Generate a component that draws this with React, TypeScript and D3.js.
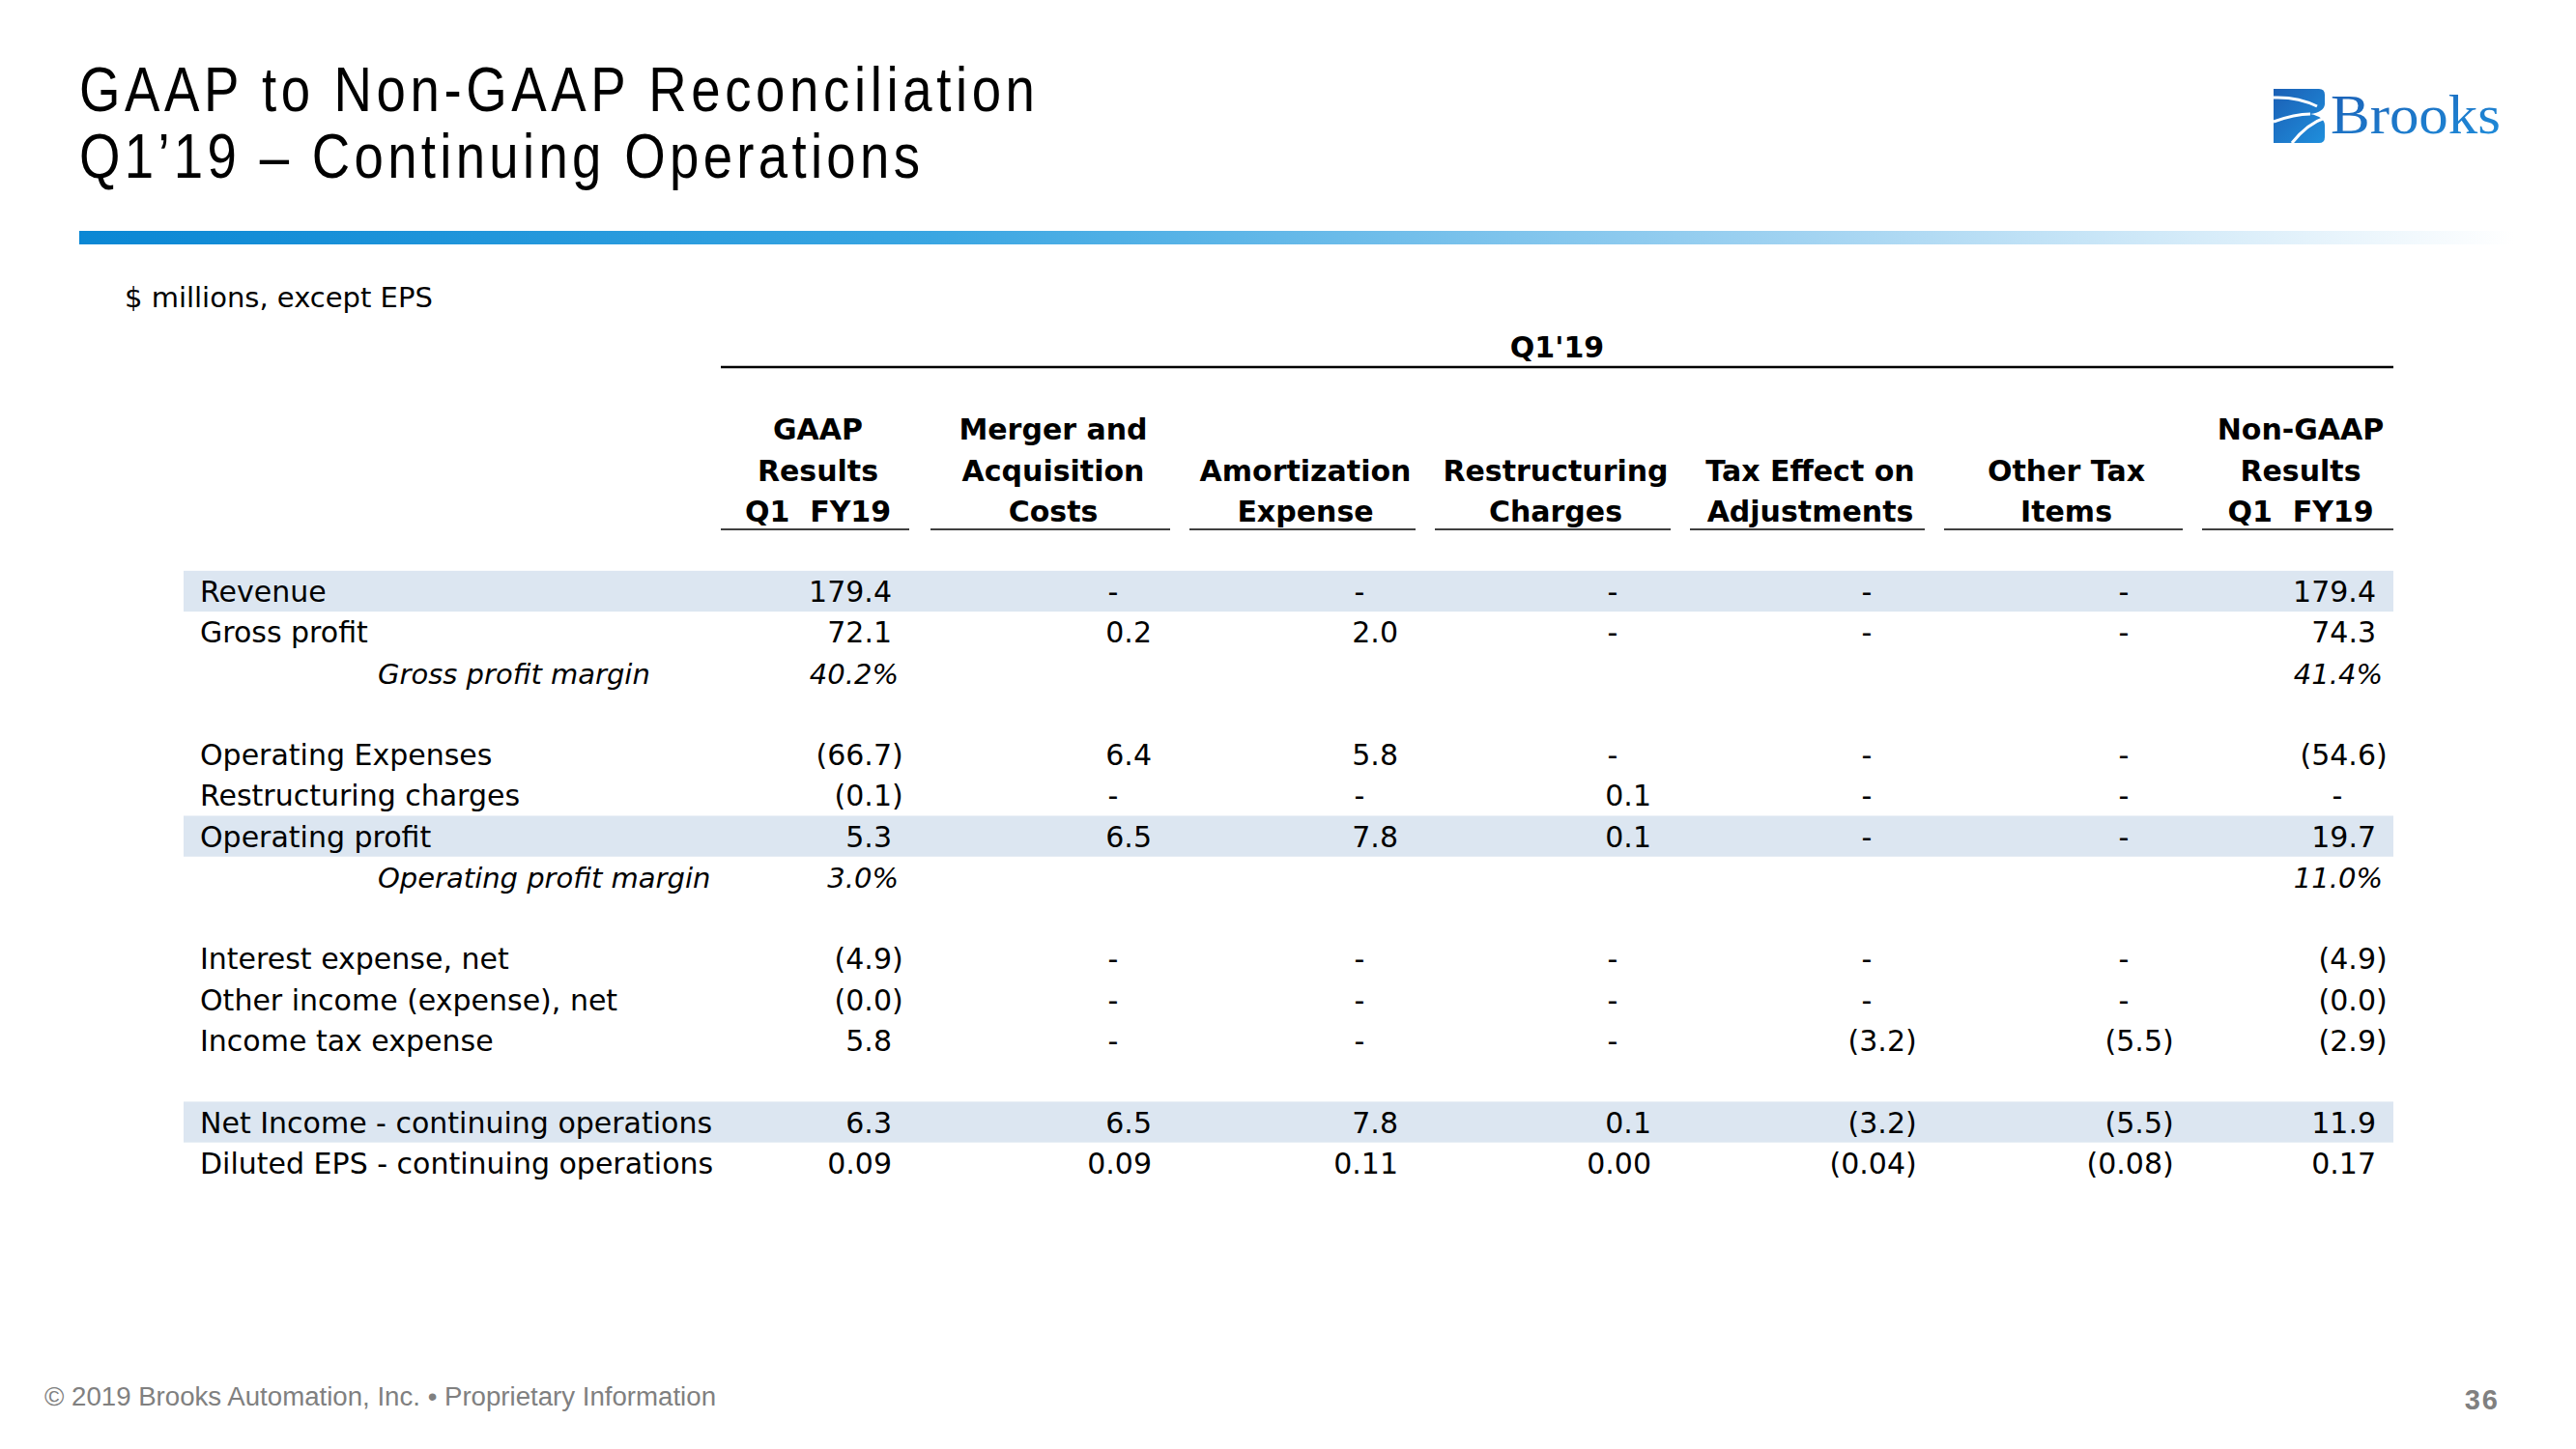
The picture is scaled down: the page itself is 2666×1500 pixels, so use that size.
import React from "react";
import * as d3 from "d3";

// ---------- DATA ----------
const titleLines = ["GAAP to Non-GAAP Reconciliation", "Q1\u201919 \u2013 Continuing Operations"];
const unitNote = "$ millions, except EPS";
const periodHeader = "Q1'19";
const footerText = "\u00A9 2019 Brooks Automation, Inc. \u2022 Proprietary Information";
const pageNumber = "36";

const rowLabels = [
  "Revenue",
  "Gross profit",
  "Gross profit margin",
  "",
  "Operating Expenses",
  "Restructuring charges",
  "Operating profit",
  "Operating profit margin",
  "",
  "Interest expense, net",
  "Other income (expense), net",
  "Income tax expense",
  "",
  "Net Income - continuing operations",
  "Diluted EPS - continuing operations",
];
const marginRows = [2, 7];
const bandRows = [0, 6, 13];
const epsRows = [14];

const columnHeaders = [
  ["GAAP", "Results", "Q1  FY19"],
  ["Merger and", "Acquisition", "Costs"],
  ["", "Amortization", "Expense"],
  ["", "Restructuring", "Charges"],
  ["", "Tax Effect on", "Adjustments"],
  ["", "Other Tax", "Items"],
  ["Non-GAAP", "Results", "Q1  FY19"],
];

const E = undefined; // blank cell ; null = dash
const gaapResults = [179.4, 72.1, 40.2, E, -66.7, -0.1, 5.3, 3.0, E, -4.9, -0, 5.8, E, 6.3, 0.09];
const mergerCosts = [null, 0.2, E, E, 6.4, null, 6.5, E, E, null, null, null, E, 6.5, 0.09];
const amortization = [null, 2.0, E, E, 5.8, null, 7.8, E, E, null, null, null, E, 7.8, 0.11];
const restructuring = [null, null, E, E, null, 0.1, 0.1, E, E, null, null, null, E, 0.1, 0.0];
const taxEffect = [null, null, E, E, null, null, null, E, E, null, null, -3.2, E, -3.2, -0.04];
const otherTax = [null, null, E, E, null, null, null, E, E, null, null, -5.5, E, -5.5, -0.08];
const nonGaap = [179.4, 74.3, 41.4, E, -54.6, null, 19.7, 11.0, E, -4.9, -0, -2.9, E, 11.9, 0.17];
const columns = [gaapResults, mergerCosts, amortization, restructuring, taxEffect, otherTax, nonGaap];

// ---------- LAYOUT ----------
const W = 2666;
const H = 1500;
const FONT = "'DejaVu Sans', Verdana, sans-serif";
const ARIAL = "'Liberation Sans', Arial, sans-serif";
const colRight = [923, 1192, 1447, 1709, 1972, 2238, 2459];
const colSpan: [number, number][] = [
  [746, 941],
  [963, 1211],
  [1231, 1465],
  [1485, 1729],
  [1749, 1992],
  [2012, 2259],
  [2279, 2477],
];

export default function App() {
  const y = d3.scaleLinear().domain([0, rowLabels.length - 1]).range([612, 1203.8]);
  const rowH = y(1) - y(0);
  const colX = d3.scaleOrdinal<number, number>().domain(d3.range(columns.length)).range(colRight);

  const fmt1 = d3.format(".1f");
  const fmt2 = d3.format(".2f");

  const cell = (v: number | null | undefined, r: number, c: number) => {
    if (v === undefined) return null;
    const xr = colX(c);
    const yb = y(r) + 11;
    if (v === null) {
      return (
        <text key={`c${r}-${c}`} x={xr - 40} y={yb} textAnchor="middle">
          -
        </text>
      );
    }
    if (marginRows.includes(r)) {
      return (
        <text key={`c${r}-${c}`} x={xr + 7} y={yb} textAnchor="end" fontStyle="italic" fontSize={29}>
          {fmt1(v) + "%"}
        </text>
      );
    }
    const neg = v < 0 || Object.is(v, -0);
    const s = (epsRows.includes(r) ? fmt2 : fmt1)(Math.abs(v));
    return (
      <g key={`c${r}-${c}`}>
        <text x={xr} y={yb} textAnchor="end">
          {neg ? "(" + s : s}
        </text>
        {neg && (
          <text x={xr} y={yb} textAnchor="start">
            )
          </text>
        )}
      </g>
    );
  };

  return (
    <svg
      width={W}
      height={H}
      viewBox={`0 0 ${W} ${H}`}
      style={{ position: "absolute", left: 0, top: 0, background: "#fff" }}
    >
      <defs>
        <linearGradient id="bar" x1="0" x2="1" y1="0" y2="0">
          <stop offset="0" stopColor="#0a87d4" />
          <stop offset="0.35" stopColor="#3aa6e2" />
          <stop offset="0.7" stopColor="#9fd2f1" />
          <stop offset="1" stopColor="#ffffff" />
        </linearGradient>
        <linearGradient id="logo" x1="0" x2="1" y1="0" y2="1">
          <stop offset="0" stopColor="#1b5fb5" />
          <stop offset="1" stopColor="#1f8fdc" />
        </linearGradient>
      </defs>
      <rect x={0} y={0} width={W} height={H} fill="#fff" />

      {/* Title */}
      {titleLines.map((t, i) => (
        <g key={t} transform={`translate(82,${115 + i * 69}) scale(0.84,1)`}>
          <text
            x={0}
            y={0}
            fontFamily={ARIAL}
            fontSize={65}
            fill="#000"
            textLength={(i === 0 ? 989 : 870) / 0.84}
            lengthAdjust="spacing"
          >
            {t}
          </text>
        </g>
      ))}

      {/* Logo */}
      <g>
        <path
          d="M2353,92 L2400,92 Q2406,92 2406,98 L2406,108 Q2405,116 2391,118 Q2406,121 2406,130 L2406,142 Q2406,148 2400,148 L2353,148 Z"
          fill="url(#logo)"
        />
        <path d="M2353,101 Q2378,100 2398,110" stroke="#fff" strokeWidth={3} fill="none" />
        <path d="M2353,126 Q2375,118 2391,118" stroke="#fff" strokeWidth={3} fill="none" />
        <path d="M2372,148 Q2388,128 2406,122" stroke="#fff" strokeWidth={3} fill="none" />
        <text
          x={2412}
          y={138}
          fontFamily="'Liberation Serif', 'DejaVu Serif', serif"
          fontSize={56}
          fill="url(#logo)"
          textLength={176}
          lengthAdjust="spacingAndGlyphs"
        >
          Brooks
        </text>
      </g>

      {/* Gradient bar */}
      <rect x={82} y={239} width={2520} height={14} fill="url(#bar)" />

      {/* Unit note */}
      <text x={129} y={318} fontFamily={FONT} fontSize={29} fill="#000">
        {unitNote}
      </text>

      <g fontFamily={FONT} fontSize={30} fill="#000">
        {/* Period header */}
        <text x={(746 + 2477) / 2} y={370} textAnchor="middle" fontWeight="bold">
          {periodHeader}
        </text>
        <line x1={746} x2={2477} y1={380} y2={380} stroke="#000" strokeWidth={2.5} />

        {/* Column headers */}
        {columnHeaders.map((lines, c) => {
          const cx = (colSpan[c][0] + colSpan[c][1]) / 2 + 3;
          return (
            <g key={`h${c}`}>
              {lines.map((ln, k) =>
                ln ? (
                  <text
                    key={k}
                    x={cx}
                    y={455 + k * 42.5}
                    textAnchor="middle"
                    fontWeight="bold"
                    style={{ whiteSpace: "pre" }}
                  >
                    {ln}
                  </text>
                ) : null
              )}
              <line x1={colSpan[c][0]} x2={colSpan[c][1]} y1={548} y2={548} stroke="#000" strokeWidth={1.6} />
            </g>
          );
        })}

        {/* Bands */}
        {bandRows.map((r) => (
          <rect key={`b${r}`} x={190} y={y(r) - rowH / 2} width={2477 - 190} height={rowH} fill="#dce6f1" />
        ))}

        {/* Row labels */}
        {rowLabels.map((lab, r) =>
          lab ? (
            <text
              key={`l${r}`}
              x={marginRows.includes(r) ? 391 : 207}
              y={y(r) + 11}
              fontStyle={marginRows.includes(r) ? "italic" : "normal"}
              fontSize={marginRows.includes(r) ? 29 : 30}
            >
              {lab}
            </text>
          ) : null
        )}

        {/* Cells */}
        {columns.map((col, c) => col.map((v, r) => cell(v as any, r, c)))}
      </g>

      {/* Footer */}
      <text
        x={46}
        y={1455}
        fontFamily={ARIAL}
        fontSize={27}
        fill="#808080"
        textLength={695}
        lengthAdjust="spacingAndGlyphs"
      >
        {footerText}
      </text>
      <text
        x={2587}
        y={1459}
        fontFamily={ARIAL}
        fontSize={29}
        fontWeight="bold"
        fill="#808080"
        textAnchor="end"
        letterSpacing={2}
      >
        {pageNumber}
      </text>
    </svg>
  );
}
